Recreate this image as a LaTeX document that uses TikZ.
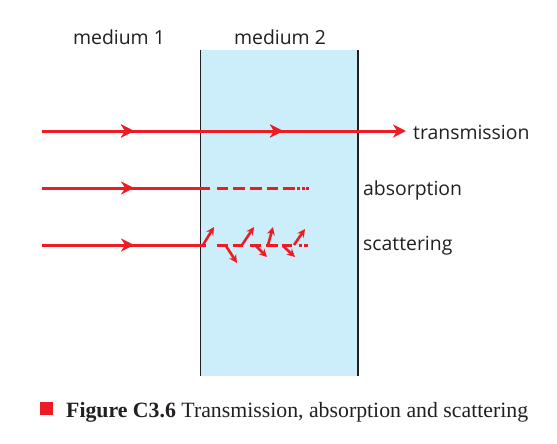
\documentclass[tikz,border=0pt]{standalone}
\usepackage{fontspec}
\setmainfont{Liberation Serif}
\newfontfamily\labelfont{Open Sans}
\usetikzlibrary{arrows.meta,decorations.markings}
\definecolor{rayred}{HTML}{ED1C24}
\definecolor{medfill}{HTML}{CCEEFA}
\definecolor{edgegray}{HTML}{231F20}
\begin{document}
\begin{tikzpicture}[x=1pt,y=-1pt,
  ray/.style={draw=rayred,line width=3pt},
  sray/.style={draw=rayred,line width=2.6pt,-{Stealth[length=8pt,width=8pt]}},
  lab/.style={font=\labelfont\fontsize{19.4}{22}\selectfont,text=edgegray,anchor=base west,inner sep=0pt},
  midarrow/.style={postaction={decorate},decoration={markings,mark=at position #1 with {\arrow[rayred]{Stealth[length=13pt,width=13pt]}}}},
  edge/.style={draw=edgegray,line width=1.3pt}
]
\useasboundingbox (0,0) rectangle (557,444);
% medium 2
\fill[medfill] (200.5,50) rectangle (358,376);
\draw[edge] (200.5,50) -- (200.5,376);
\draw[edge] (358,50) -- (358,376);
% labels
\node[lab,anchor=base] (m1) at (119,45) {medium 1};
\node[lab,anchor=base] (m2) at (280,45) {medium 2};
% transmission
\coordinate (t0) at (42,131);
\coordinate (t1) at (406,131);
\draw[ray,midarrow=92pt,midarrow=241pt,-{Stealth[length=13pt,width=13pt]}] (t0) -- (t1);
\node[lab] (tl) at (413,139) {transmission};
% absorption
\coordinate (a0) at (42,188);
\coordinate (a1) at (210,188);
\draw[ray,midarrow=92pt] (a0) -- (a1);
\foreach \s/\e in {217/228,233/245,250/262,267/278,283/295,297/300,302/305,306/309}
  \draw[ray] (\s,188) -- (\e,188);
\node[lab] (al) at (363,195) {absorption};
% scattering
\coordinate (s0) at (42,245);
\coordinate (s1) at (206,245);
\draw[ray,midarrow=92pt] (s0) -- (s1);
\foreach \s/\e in {217/228,233/243,250/261,266/278,282/292,299/302,304/308}
  \draw[ray] (\s,245) -- (\e,245);
\foreach \xa/\ya/\xb/\yb in {203/245/214/227, 226/246/237/263, 242/245/254/227, 256/246/267/257, 268/245/273/227, 283/246/295/257, 294/245/305/229}
  \draw[sray] (\xa,\ya) -- (\xb,\yb);
\node[lab] (sl) at (363,250) {scattering};
% caption
\fill[rayred] (40,402) rectangle (53,415);
\node[anchor=base west,inner sep=0pt,font=\fontsize{21.8}{24}\selectfont,text=edgegray] (cap) at (66,417) {\textbf{Figure C3.6} Transmission, absorption and scattering};
\end{tikzpicture}
\end{document}
